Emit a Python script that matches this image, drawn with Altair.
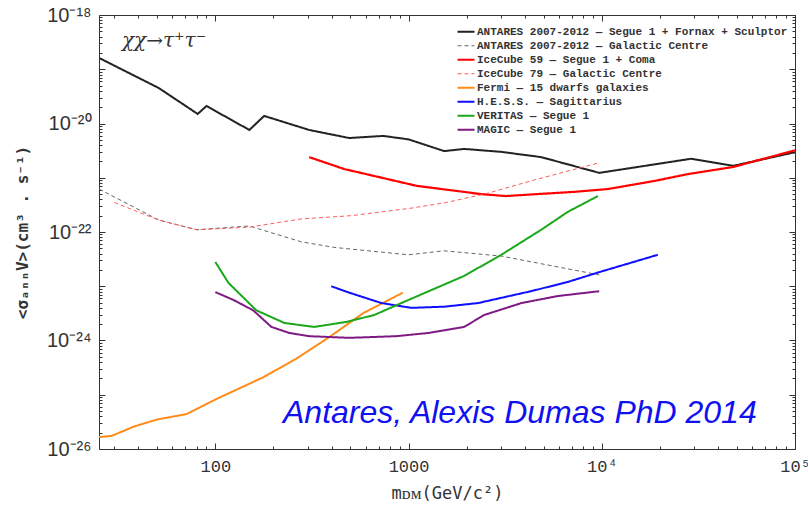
import altair as alt
import pandas as pd

# ---- series ----------------------------------------------------------------
series_names = [
    "ANTARES 2007-2012 — Segue 1 + Fornax + Sculptor",
    "ANTARES 2007-2012 — Galactic Centre",
    "IceCube 59 — Segue 1 + Coma",
    "IceCube 79 — Galactic Centre",
    "Fermi — 15 dwarfs galaxies",
    "H.E.S.S. — Sagittarius",
    "VERITAS — Segue 1",
    "MAGIC — Segue 1",
]
series_colors = ["#222222", "#666666", "#ff0000", "#ff5a5a",
                 "#ff8c1a", "#0f0fff", "#1aa81a", "#7f1a85"]
series_dash = [[1, 0], [4, 3], [1, 0], [4, 3], [1, 0], [1, 0], [1, 0], [1, 0]]
series_width = [2.0, 1.0, 2.2, 1.0, 2.0, 2.0, 2.0, 2.0]

# m_DM in GeV/c^2, <sigma v> in cm^3 s^-1
antares_dw_m = [25, 51, 81, 90, 150, 179, 306, 493, 740, 1000, 1530, 1940,
                3020, 4860, 9700, 29000, 47900, 100000]
antares_dw_sv = [1.62e-19, 4.5e-20, 1.5e-20, 2.1e-20, 7.6e-21, 1.38e-20,
                 7.6e-21, 5.4e-21, 5.9e-21, 5.1e-21, 3.1e-21, 3.4e-21,
                 3.0e-21, 2.4e-21, 1.23e-21, 2.24e-21, 1.66e-21, 2.95e-21]

antares_gc_m = [25, 51, 80, 150, 278, 412, 1000, 1530, 3020, 9700]
antares_gc_sv = [6.2e-22, 1.66e-22, 1.1e-22, 1.29e-22, 6.6e-23, 5.2e-23,
                 3.8e-23, 4.5e-23, 3.6e-23, 1.62e-23]

icecube59_m = [306, 464, 1100, 2370, 3180, 7200, 10770, 18660, 28000, 47900, 100000]
icecube59_sv = [2.4e-21, 1.45e-21, 7.1e-22, 5.0e-22, 4.6e-22, 5.5e-22,
                6.2e-22, 8.7e-22, 1.17e-21, 1.58e-21, 3.2e-21]

icecube79_m = [30, 51, 80, 150, 278, 505, 1030, 1570, 2580, 4470, 9550]
icecube79_sv = [3.5e-22, 1.66e-22, 1.1e-22, 1.23e-22, 1.74e-22, 2.0e-22,
                2.75e-22, 3.5e-22, 5.2e-22, 9.1e-22, 1.86e-21]

fermi_m = [25, 29, 38, 50, 71, 101, 177, 262, 388, 583, 933]
fermi_sv = [1.66e-26, 1.74e-26, 2.6e-26, 3.5e-26, 4.4e-26, 8.3e-26,
            2.1e-25, 4.6e-25, 1.15e-24, 3.2e-24, 7.6e-24]

hess_m = [398, 494, 724, 1033, 1530, 2290, 4300, 6670, 9700, 19500]
hess_sv = [1.0e-23, 7.6e-24, 4.9e-24, 4.0e-24, 4.2e-24, 4.9e-24,
           8.1e-24, 1.2e-23, 1.82e-23, 3.8e-23]

veritas_m = [100, 117, 163, 228, 325, 476, 664, 1000, 1940, 3020, 4860, 6670, 9550]
veritas_sv = [2.8e-23, 1.15e-23, 3.6e-24, 2.1e-24, 1.78e-24, 2.2e-24,
              2.95e-24, 5.6e-24, 1.55e-23, 3.8e-23, 1.1e-22, 2.35e-22, 4.6e-22]

magic_m = [100, 124, 157, 195, 241, 306, 494, 862, 1275, 1940, 2460, 3840, 5920, 9700]
magic_sv = [7.8e-24, 5.6e-24, 3.6e-24, 1.78e-24, 1.38e-24, 1.2e-24, 1.12e-24,
            1.2e-24, 1.38e-24, 1.78e-24, 2.95e-24, 4.9e-24, 6.6e-24, 8.1e-24]

# ---- axis tick values -------------------------------------------------------
x_label_vals = [100, 1000, 10000, 100000]
x_major = [100, 1000, 10000, 100000]
x_minor = [k * 10 ** e for e in (1, 2, 3, 4) for k in range(2, 10)]
y_label_vals = [1e-26, 1e-24, 1e-22, 1e-20, 1e-18]
y_major = [10.0 ** e for e in range(-26, -17)]
y_minor = [k * 10.0 ** e for e in range(-26, -18) for k in range(2, 10)]

# ---- long table -------------------------------------------------------------
pairs = [
    (antares_dw_m, antares_dw_sv), (antares_gc_m, antares_gc_sv),
    (icecube59_m, icecube59_sv), (icecube79_m, icecube79_sv),
    (fermi_m, fermi_sv), (hess_m, hess_sv),
    (veritas_m, veritas_sv), (magic_m, magic_sv),
]
rows = []
for name, (ms, svs) in zip(series_names, pairs):
    for m, sv in zip(ms, svs):
        rows.append({"series": name, "m": m, "sv": sv})
df = pd.DataFrame(rows)

W, H = 696, 434
x_scale = alt.Scale(type="log", domain=[25, 100000], nice=False)
y_scale = alt.Scale(type="log", domain=[1e-26, 1e-18], nice=False)
INK = "#333333"

x_label_expr = ("datum.value == 100 ? '100' : datum.value == 1000 ? '1000' : "
                "datum.value == 10000 ? '10⁴' : '10⁵'")
y_label_expr = ("datum.value < 5e-26 ? '10⁻²⁶' : datum.value < 5e-24 ? '10⁻²⁴' : "
                "datum.value < 5e-22 ? '10⁻²²' : datum.value < 5e-20 ? '10⁻²⁰' : '10⁻¹⁸'")

lines = alt.Chart(df).mark_line(clip=True).encode(
    x=alt.X("m:Q", scale=x_scale, axis=alt.Axis(
        orient="bottom", values=x_label_vals, labelExpr=x_label_expr,
        ticks=False, domain=False, grid=False,
        labelFont="Liberation Mono", labelFontSize=17, labelColor=INK,
        labelPadding=9, labelFlush=False,
        title="mᴅᴍ(GeV/c²)", titleFont="DejaVu Sans Mono", titleFontSize=17,
        titleFontWeight="normal", titleColor=INK, titlePadding=11)),
    y=alt.Y("sv:Q", scale=y_scale, axis=alt.Axis(
        orient="left", values=y_label_vals, labelExpr=y_label_expr,
        ticks=False, domain=False, grid=False,
        labelFont="Liberation Sans", labelFontSize=20, labelColor=INK,
        labelPadding=8, labelFlush=False,
        title="<σₐₙₙV>(cm³ . s⁻¹)", titleFont="DejaVu Sans Mono", titleFontSize=16,
        titleFontWeight="bold", titleColor=INK, titlePadding=16)),
    color=alt.Color("series:N", scale=alt.Scale(domain=series_names, range=series_colors),
                    legend=alt.Legend(title=None)),
    strokeDash=alt.StrokeDash("series:N", scale=alt.Scale(domain=series_names, range=series_dash),
                              legend=alt.Legend(title=None)),
    strokeWidth=alt.StrokeWidth("series:N",
                                scale=alt.Scale(type="ordinal", domain=series_names, range=series_width),
                                legend=alt.Legend(title=None)),
)

# inward-pointing ticks on all four sides: axes of the opposite orient pulled across the plot
tick_src = pd.DataFrame({"m": [100.0], "sv": [1e-22]})


def tick_layer(x_orient, y_orient, x_vals, y_vals, size):
    return alt.Chart(tick_src).mark_point(opacity=0).encode(
        x=alt.X("m:Q", scale=x_scale, axis=alt.Axis(
            orient=x_orient, offset=-H, values=x_vals, labels=False, tickSize=size,
            tickColor=INK, tickWidth=1, domain=False, grid=False, title=None)),
        y=alt.Y("sv:Q", scale=y_scale, axis=alt.Axis(
            orient=y_orient, offset=-W, values=y_vals, labels=False, tickSize=size,
            tickColor=INK, tickWidth=1, domain=False, grid=False, title=None)),
    )


ticks = [
    tick_layer("top", "right", x_minor, y_minor, 3),
    tick_layer("top", "right", x_major, y_major, 6),
    tick_layer("bottom", "left", x_minor, y_minor, 3),
    tick_layer("bottom", "left", x_major, y_major, 6),
]

channel = alt.Chart(pd.DataFrame({"t": ["χχ→τ⁺τ⁻"]})).mark_text(
    align="left", baseline="alphabetic", font="DejaVu Serif", fontStyle="italic",
    fontSize=20, color=INK,
).encode(text="t:N", x=alt.value(23), y=alt.value(32))

credit = alt.Chart(pd.DataFrame({"t": ["Antares, Alexis Dumas PhD 2014"]})).mark_text(
    align="left", baseline="alphabetic", font="Liberation Sans", fontStyle="italic",
    fontSize=32, color="#1010f0",
).encode(text="t:N", x=alt.value(184), y=alt.value(408))

chart = alt.layer(lines, *ticks, channel, credit).resolve_axis(
    x="independent", y="independent"
).properties(
    width=W, height=H,
    autosize=alt.AutoSizeParams(type="none"),
    padding={"left": 99, "top": 15, "right": 13, "bottom": 60},
).configure_view(
    stroke=INK, strokeWidth=1,
).configure_legend(
    orient="none", legendX=357, legendY=10,
    symbolType="stroke", symbolSize=289, clipHeight=13.5, rowPadding=0,
    labelFont="Liberation Mono", labelFontWeight="bold", labelFontSize=11,
    labelColor=INK, labelOffset=1, labelLimit=400, padding=0,
)

chart.save("out.html", embed_options={"renderer": "svg", "actions": False})
